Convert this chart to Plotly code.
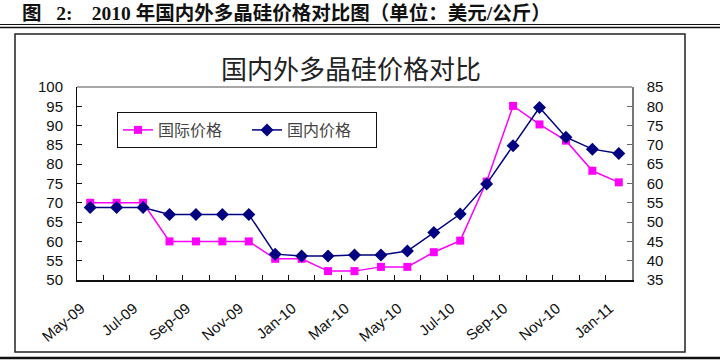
import plotly.graph_objects as go

months = ["May-09", "Jun-09", "Jul-09", "Aug-09", "Sep-09", "Oct-09", "Nov-09",
          "Dec-09", "Jan-10", "Feb-10", "Mar-10", "Apr-10", "May-10", "Jun-10",
          "Jul-10", "Aug-10", "Sep-10", "Oct-10", "Nov-10", "Dec-10", "Jan-11"]
intl_price = [70, 70, 70, 60, 60, 60, 60, 55.5, 55.5, 52.3, 52.3, 53.4, 53.4,
              57.2, 60.2, 75.5, 95.1, 90.3, 86.1, 78.3, 75.3]
dom_price = [53.8, 53.8, 53.8, 52, 52, 52, 52, 41.7, 41.2, 41.2, 41.5, 41.5, 42.5,
             47.3, 52.1, 59.9, 69.8, 79.7, 72, 68.9, 67.8]
label_idx = list(range(0, len(months), 2))
label_text = [months[i] for i in label_idx]

NB = "\u00a0"
heading = "图" + NB * 3 + "2:" + NB * 4 + "2010" + NB + "年国内外多晶硅价格对比图（单位：美元/公斤）"
chart_title = "国内外多晶硅价格对比"

W, H = 720, 363
L, R, T, B = 77, 632, 87, 280
pw, ph = R - L, B - T


def px(x):
    return (x - L) / pw


def py(y):
    return (B - y) / ph


fig = go.Figure()
fig.add_trace(go.Scatter(
    x=months, y=intl_price, name="国际价格", mode="lines+markers",
    line=dict(color="#FF00FF", width=1.5),
    marker=dict(symbol="square", size=8, color="#FF00FF"),
    yaxis="y"))
fig.add_trace(go.Scatter(
    x=months, y=dom_price, name="国内价格", mode="lines+markers",
    line=dict(color="#000080", width=1.5),
    marker=dict(symbol="diamond", size=10, color="#000080"),
    yaxis="y2"))
# invisible carrier so the label axis is drawn
fig.add_trace(go.Scatter(
    x=label_idx, y=[intl_price[i] for i in label_idx], mode="markers",
    marker=dict(opacity=0), showlegend=False, hoverinfo="skip",
    xaxis="x2", yaxis="y"))

tickfont = dict(family="Liberation Sans, Arial", size=15, color="#111")

fig.update_layout(
    width=W, height=H,
    margin=dict(l=L, r=W - R, t=T, b=H - B, pad=0),
    paper_bgcolor="white", plot_bgcolor="white",
    showlegend=True,
    legend=dict(
        x=px(117), y=py(112), xanchor="left", yanchor="top",
        orientation="h", bgcolor="white", bordercolor="#111", borderwidth=1,
        font=dict(family="Noto Sans CJK SC", size=16, color="#444"),
        entrywidth=84, entrywidthmode="pixels",
    ),
    xaxis=dict(
        type="category", tickmode="array", tickvals=months,
        tickson="boundaries", ticks="inside", ticklen=5, tickcolor="#111",
        showticklabels=False,
        showline=True, linecolor="#111", linewidth=1.5, showgrid=False,
        range=[-0.5, 20.5], zeroline=False,
    ),
    xaxis2=dict(
        type="linear", overlaying="x", anchor="y", side="bottom",
        range=[-0.5, 20.5], tickmode="array",
        tickvals=[i - 0.35 for i in label_idx], ticktext=label_text,
        ticks="", showline=False, showgrid=False, zeroline=False,
        tickangle=-40, ticklabelstandoff=16,
        tickfont=dict(family="Liberation Sans, Arial", size=15, color="#111"),
    ),
    yaxis=dict(
        range=[50, 100], dtick=5, tick0=50, ticks="inside", ticklen=5,
        tickcolor="#111", showline=True, linecolor="#111", linewidth=1,
        showgrid=False, zeroline=False, tickfont=tickfont, ticklabelstandoff=10,
    ),
    yaxis2=dict(
        range=[35, 85], dtick=5, tick0=35, ticks="inside", ticklen=5,
        tickcolor="#666", showline=True, linecolor="#777", linewidth=1.5,
        showgrid=False, zeroline=False, tickfont=tickfont, overlaying="y",
        side="right", ticklabelstandoff=10,
    ),
)

shapes = [
    dict(type="line", xref="paper", yref="paper", x0=0, x1=1, y0=1, y1=1,
         line=dict(color="#888", width=1.5)),
    dict(type="rect", xref="paper", yref="paper", x0=px(15), x1=px(685),
         y0=py(352), y1=py(34), line=dict(color="#222", width=1.5)),
    dict(type="line", xref="paper", yref="paper", x0=px(0), x1=px(720),
         y0=py(24.5), y1=py(24.5), line=dict(color="#111", width=1)),
    dict(type="line", xref="paper", yref="paper", x0=px(0), x1=px(720),
         y0=py(27.5), y1=py(27.5), line=dict(color="#111", width=1.5)),
    dict(type="line", xref="paper", yref="paper", x0=px(0), x1=px(720),
         y0=py(358), y1=py(358), line=dict(color="#111", width=2.5)),
]
fig.update_layout(shapes=shapes)

fig.add_annotation(
    text="<b>" + heading + "</b>", xref="paper", yref="paper",
    x=px(20), y=py(13), xanchor="left", yanchor="middle", showarrow=False,
    font=dict(family="Liberation Serif, Noto Sans CJK SC", size=19.5, color="#111"))
fig.add_annotation(
    text=chart_title, xref="paper", yref="paper",
    x=px(351), y=py(67), xanchor="center", yanchor="middle", showarrow=False,
    font=dict(family="Noto Sans CJK SC", size=26, color="#222"))

fig.write_html("out.html", config={"displayModeBar": False},
               post_script="document.body.style.margin='0';document.body.style.padding='0';")
